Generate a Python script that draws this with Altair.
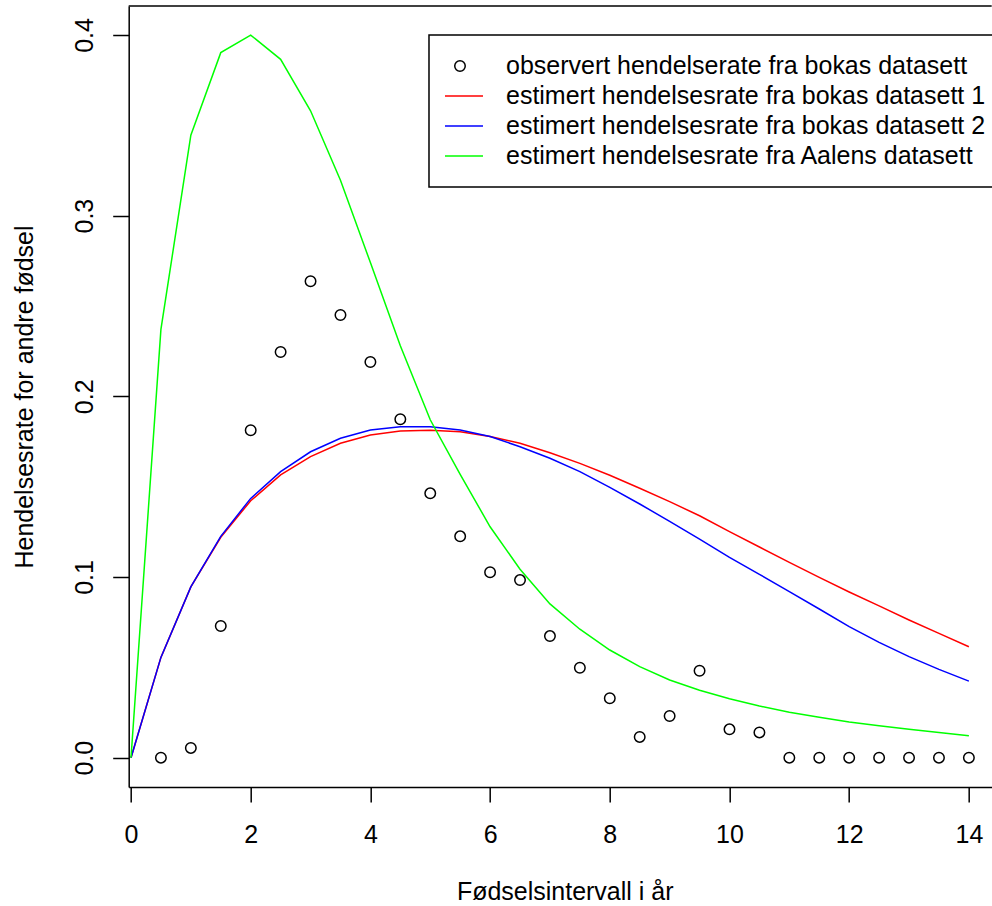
import altair as alt
import pandas as pd

# ---- data ----
obs_x = [0.5, 1.0, 1.5, 2.0, 2.5, 3.0, 3.5, 4.0, 4.5, 5.0, 5.5, 6.0, 6.5, 7.0,
         7.5, 8.0, 8.5, 9.0, 9.5, 10.0, 10.5, 11.0, 11.5, 12.0, 12.5, 13.0, 13.5, 14.0]
obs_y = [0.0, 0.0054, 0.0729, 0.1812, 0.2245, 0.2637, 0.2450, 0.2190, 0.1873, 0.1463,
         0.1225, 0.1026, 0.0983, 0.0673, 0.0498, 0.0329, 0.0115, 0.0231, 0.0481, 0.0157,
         0.0140, 0.0, 0.0, 0.0, 0.0, 0.0, 0.0, 0.0]

curve_x = [0.0, 0.5, 1.0, 1.5, 2.0, 2.5, 3.0, 3.5, 4.0, 4.5, 5.0, 5.5, 6.0, 6.5, 7.0,
           7.5, 8.0, 8.5, 9.0, 9.5, 10.0, 10.5, 11.0, 11.5, 12.0, 12.5, 13.0, 13.5, 14.0]
red_y = [0.0, 0.0555, 0.0945, 0.1220, 0.1422, 0.1565, 0.1666, 0.1740, 0.1786, 0.1808,
         0.1812, 0.1804, 0.1777, 0.1740, 0.1688, 0.1629, 0.1563, 0.1491, 0.1417, 0.1339,
         0.1251, 0.1166, 0.1081, 0.0998, 0.0917, 0.0840, 0.0762, 0.0688, 0.0614]
blue_y = [0.0, 0.0555, 0.0945, 0.1225, 0.1435, 0.1583, 0.1693, 0.1768, 0.1814, 0.1832,
          0.1832, 0.1814, 0.1777, 0.1721, 0.1657, 0.1583, 0.1496, 0.1404, 0.1308, 0.1209,
          0.1109, 0.1015, 0.0919, 0.0823, 0.0725, 0.0638, 0.0559, 0.0489, 0.0424]
green_y = [0.0, 0.2370, 0.3445, 0.3902, 0.3999, 0.3865, 0.3580, 0.3196, 0.2740, 0.2280,
           0.1870, 0.1568, 0.1278, 0.1043, 0.0851, 0.0711, 0.0596, 0.0504, 0.0430, 0.0373,
           0.0326, 0.0286, 0.0251, 0.0224, 0.0198, 0.0177, 0.0157, 0.0140, 0.0122]

labels = ["observert hendelserate fra bokas datasett",
          "estimert hendelsesrate fra bokas datasett 1",
          "estimert hendelsesrate fra bokas datasett 2",
          "estimert hendelsesrate fra Aalens datasett"]
colors = ["#000000", "#FF0000", "#0000FF", "#00FF00"]

x_ticks = [0, 2, 4, 6, 8, 10, 12, 14]
y_ticks = [0.0, 0.1, 0.2, 0.3, 0.4]

x_title = "Fødselsintervall i år"
y_title = "Hendelsesrate for andre fødsel"

# ---- tables ----
obs_df = pd.DataFrame({"x": obs_x, "y": obs_y, "series": labels[0]})
curve_df = pd.concat([
    pd.DataFrame({"x": curve_x, "y": red_y, "series": labels[1]}),
    pd.DataFrame({"x": curve_x, "y": blue_y, "series": labels[2]}),
    pd.DataFrame({"x": curve_x, "y": green_y, "series": labels[3]}),
], ignore_index=True)

W, H = 863, 781
FONT = "Liberation Sans"
FS = 25
SYM = 2116  # symbol box: 46 px (legend line length)
# small open circle drawn inside the 46 px symbol box (radius ~5.25 px)
circle_path = "M -0.228,0 A 0.228,0.228 0 1,0 0.228,0 A 0.228,0.228 0 1,0 -0.228,0 Z"
shapes = [circle_path, "stroke", "stroke", "stroke"]

x_scale = alt.Scale(domain=[-0.0384, 14.381], nice=False, zero=False)
y_scale = alt.Scale(domain=[-0.01622, 0.416], nice=False, zero=False)

x_axis = alt.Axis(values=x_ticks, title=x_title, grid=False, tickSize=15,
                  labelPadding=40.7, labelBaseline="alphabetic", labelFlush=False,
                  titleBaseline="alphabetic", titleX=436, titleY=113, titleAlign="center")
y_axis = alt.Axis(values=y_ticks, format=".1f", title=y_title, grid=False, tickSize=16,
                  labelAngle=270, labelAlign="center", labelBaseline="alphabetic",
                  labelPadding=19.7, labelFlush=False,
                  titleAngle=270, titleBaseline="alphabetic", titleAlign="center",
                  titleX=-95.7, titleY=H / 2)

legend = alt.Legend(
    orient="none", legendX=300.3, legendY=29, title=None,
    strokeColor="black", fillColor="white", padding=16,
    labelFontSize=FS, labelFont=FONT, labelColor="black", labelLimit=2000,
    symbolSize=SYM, symbolStrokeWidth=1.5, symbolFillColor="transparent",
    symbolOpacity=1, labelOffset=22, clipHeight=30, rowPadding=0, symbolOffset=-9,
)

color = alt.Color("series:N", scale=alt.Scale(domain=labels, range=colors), legend=legend)
shape = alt.Shape("series:N", scale=alt.Scale(domain=labels, range=shapes), legend=legend)

points = alt.Chart(obs_df).mark_point(filled=False, size=SYM, strokeWidth=1.5, opacity=1).encode(
    x=alt.X("x:Q", scale=x_scale, axis=x_axis),
    y=alt.Y("y:Q", scale=y_scale, axis=y_axis),
    color=color,
    shape=shape,
)
lines = alt.Chart(curve_df).mark_line(strokeWidth=1.5).encode(
    x=alt.X("x:Q", scale=x_scale, axis=x_axis),
    y=alt.Y("y:Q", scale=y_scale, axis=y_axis),
    color=color,
)
top_border = alt.Chart(pd.DataFrame({"b": [0]})).mark_rule(color="black", strokeWidth=1.5).encode(
    x=alt.value(0), x2=alt.value(W), y=alt.value(0)
)

chart = alt.layer(points, lines, top_border).properties(
    width=W, height=H,
    autosize=alt.AutoSizeParams(type="none"),
    padding={"left": 128.7, "top": 6, "right": 0, "bottom": 119},
    background="white",
).configure(font=FONT).configure_view(stroke=None).configure_axis(
    labelFont=FONT, titleFont=FONT, labelFontSize=FS, titleFontSize=FS,
    titleFontWeight="normal", labelColor="black", titleColor="black",
    domainColor="black", tickColor="black", domainWidth=1.5, tickWidth=1.5,
).configure_legend(strokeWidth=1.5)

chart.save("out.html", embed_options={"renderer": "svg", "actions": False})
